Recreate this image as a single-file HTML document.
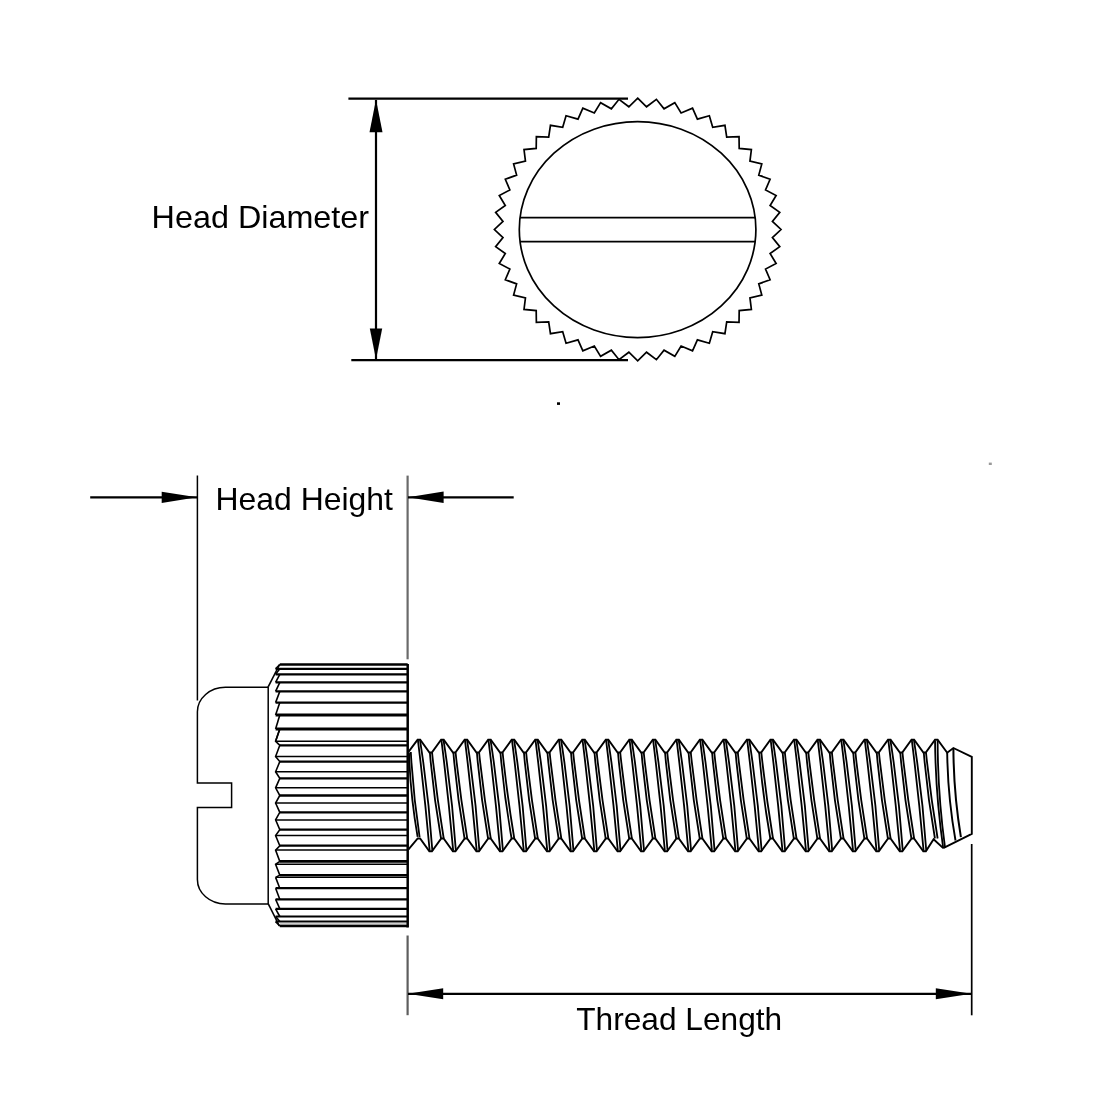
<!DOCTYPE html>
<html><head><meta charset="utf-8"><style>
html,body{margin:0;padding:0;background:#fff;width:1100px;height:1100px;overflow:hidden}
svg{display:block;will-change:transform}
</style></head><body>
<svg width="1100" height="1100" viewBox="0 0 1100 1100">
<rect width="1100" height="1100" fill="#fff"/>
<line x1="348.4" y1="98.6" x2="628" y2="98.6" stroke="#000" stroke-width="2.2"/>
<line x1="351.3" y1="360.2" x2="628" y2="360.2" stroke="#000" stroke-width="2.2"/>
<line x1="376" y1="100" x2="376" y2="359" stroke="#000" stroke-width="2.2"/>
<path d="M376 99.5 L369.5 132.2 L382.5 132.2 Z" fill="#000"/>
<path d="M376 359.5 L369.8 328.5 L382.2 328.5 Z" fill="#000"/>
<path d="M637.7 98.2 L646.53 106.76 L656.4 99.32 L664.04 108.86 L674.79 102.67 L681.09 113.03 L692.54 108.19 L697.41 119.18 L709.35 115.79 L712.7 127.23 L724.94 125.33 L726.71 137.02 L739.03 136.66 L739.2 148.4 L751.39 149.57 L749.95 161.16 L761.8 163.85 L758.78 175.1 L770.09 179.25 L765.54 189.96 L776.12 195.52 L770.11 205.5 L779.77 212.36 L772.41 221.46 L781 229.5 L772.41 237.54 L779.77 246.64 L770.11 253.5 L776.12 263.48 L765.54 269.04 L770.09 279.75 L758.78 283.9 L761.8 295.15 L749.95 297.84 L751.39 309.43 L739.2 310.6 L739.03 322.34 L726.71 321.98 L724.94 333.67 L712.7 331.77 L709.35 343.21 L697.41 339.82 L692.54 350.81 L681.09 345.97 L674.79 356.33 L664.04 350.14 L656.4 359.68 L646.53 352.24 L637.7 360.8 L628.87 352.24 L619 359.68 L611.36 350.14 L600.61 356.33 L594.31 345.97 L582.86 350.81 L577.99 339.82 L566.05 343.21 L562.7 331.77 L550.46 333.67 L548.69 321.98 L536.37 322.34 L536.2 310.6 L524.01 309.43 L525.45 297.84 L513.6 295.15 L516.62 283.9 L505.31 279.75 L509.86 269.04 L499.28 263.48 L505.29 253.5 L495.63 246.64 L502.99 237.54 L494.4 229.5 L502.99 221.46 L495.63 212.36 L505.29 205.5 L499.28 195.52 L509.86 189.96 L505.31 179.25 L516.62 175.1 L513.6 163.85 L525.45 161.16 L524.01 149.57 L536.2 148.4 L536.37 136.66 L548.69 137.02 L550.46 125.33 L562.7 127.23 L566.05 115.79 L577.99 119.18 L582.86 108.19 L594.31 113.03 L600.61 102.67 L611.36 108.86 L619 99.32 L628.87 106.76 Z" fill="none" stroke="#000" stroke-width="1.7" stroke-linejoin="miter"/>
<ellipse cx="637.6" cy="229.6" rx="118.3" ry="108" fill="none" stroke="#000" stroke-width="1.7"/>
<line x1="520.03" y1="217.6" x2="755.17" y2="217.6" stroke="#000" stroke-width="1.7"/>
<line x1="520.03" y1="241.6" x2="755.17" y2="241.6" stroke="#000" stroke-width="1.7"/>
<line x1="197.4" y1="475.5" x2="197.4" y2="700.5" stroke="#000" stroke-width="1.5"/>
<line x1="407.6" y1="475.6" x2="407.6" y2="659.3" stroke="#6a6a6a" stroke-width="2.2"/>
<line x1="90.2" y1="497.3" x2="197" y2="497.3" stroke="#000" stroke-width="2.2"/>
<path d="M197 497.3 L161.7 491.7 L161.7 502.9 Z" fill="#000"/>
<line x1="408" y1="497.3" x2="513.7" y2="497.3" stroke="#000" stroke-width="2.2"/>
<path d="M408 497.3 L443.6 491.6 L443.6 503 Z" fill="#000"/>
<path d="M268 687.3 L225.4 687.3 A28.0 24.5 0 0 0 197.4 711.8 L197.4 783 L231.6 783 L231.6 807.5 L197.4 807.5 L197.4 879.4 A28.0 24.5 0 0 0 225.4 903.9 L268 903.9" fill="none" stroke="#000" stroke-width="1.5"/>
<line x1="268.2" y1="686.2" x2="268.2" y2="904" stroke="#000" stroke-width="1.5"/>
<line x1="268.3" y1="686.6" x2="279.6" y2="664.5" stroke="#000" stroke-width="1.6"/>
<line x1="268.3" y1="903.8" x2="279.4" y2="926" stroke="#000" stroke-width="1.6"/>
<line x1="280" y1="924" x2="407" y2="924" stroke="#999" stroke-width="1.0"/>
<line x1="279.8" y1="664.5" x2="407.7" y2="664.5" stroke="#000" stroke-width="2.6"/>
<line x1="275.6" y1="668.8" x2="407.7" y2="668.8" stroke="#000" stroke-width="2.2"/>
<line x1="275.6" y1="674.3" x2="407.7" y2="674.3" stroke="#000" stroke-width="2.2"/>
<line x1="275.6" y1="682.3" x2="407.7" y2="682.3" stroke="#000" stroke-width="2.2"/>
<line x1="275.6" y1="691.4" x2="407.7" y2="691.4" stroke="#000" stroke-width="2.2"/>
<line x1="275.6" y1="702.6" x2="407.7" y2="702.6" stroke="#000" stroke-width="2.4"/>
<line x1="275.6" y1="715" x2="407.7" y2="715" stroke="#000" stroke-width="2.8"/>
<line x1="275.6" y1="729" x2="407.7" y2="729" stroke="#000" stroke-width="2.8"/>
<line x1="275.6" y1="741.3" x2="407.7" y2="741.3" stroke="#000" stroke-width="1.5"/>
<line x1="279.8" y1="745.3" x2="407.7" y2="745.3" stroke="#000" stroke-width="2.3"/>
<line x1="275.6" y1="756.5" x2="407.7" y2="756.5" stroke="#000" stroke-width="1.5"/>
<line x1="279.8" y1="761.6" x2="407.7" y2="761.6" stroke="#000" stroke-width="2.3"/>
<line x1="275.6" y1="771.8" x2="407.7" y2="771.8" stroke="#000" stroke-width="1.5"/>
<line x1="279.8" y1="778.4" x2="407.7" y2="778.4" stroke="#000" stroke-width="2.3"/>
<line x1="275.6" y1="787.8" x2="407.7" y2="787.8" stroke="#000" stroke-width="1.5"/>
<line x1="279.8" y1="795.5" x2="407.7" y2="795.5" stroke="#000" stroke-width="2.4"/>
<line x1="275.6" y1="803.1" x2="407.7" y2="803.1" stroke="#000" stroke-width="1.5"/>
<line x1="279.8" y1="812.3" x2="407.7" y2="812.3" stroke="#000" stroke-width="2.3"/>
<line x1="275.6" y1="819.9" x2="407.7" y2="819.9" stroke="#000" stroke-width="1.5"/>
<line x1="279.8" y1="829.7" x2="407.7" y2="829.7" stroke="#000" stroke-width="2.3"/>
<line x1="275.6" y1="835.5" x2="407.7" y2="835.5" stroke="#000" stroke-width="1.5"/>
<line x1="279.8" y1="845.7" x2="407.7" y2="845.7" stroke="#000" stroke-width="2.3"/>
<line x1="275.6" y1="850.1" x2="407.7" y2="850.1" stroke="#000" stroke-width="1.5"/>
<line x1="279.8" y1="861.4" x2="407.7" y2="861.4" stroke="#000" stroke-width="2.8"/>
<line x1="275.6" y1="864.3" x2="407.7" y2="864.3" stroke="#000" stroke-width="1.4"/>
<line x1="279.8" y1="875.2" x2="407.7" y2="875.2" stroke="#000" stroke-width="2.4"/>
<line x1="275.6" y1="877.4" x2="407.7" y2="877.4" stroke="#000" stroke-width="1.4"/>
<line x1="275.6" y1="888.2" x2="407.7" y2="888.2" stroke="#000" stroke-width="2.2"/>
<line x1="275.6" y1="899.3" x2="407.7" y2="899.3" stroke="#000" stroke-width="2.2"/>
<line x1="275.6" y1="908.9" x2="407.7" y2="908.9" stroke="#000" stroke-width="2.2"/>
<line x1="275.6" y1="916.5" x2="407.7" y2="916.5" stroke="#000" stroke-width="2.2"/>
<line x1="275.6" y1="921.6" x2="407.7" y2="921.6" stroke="#000" stroke-width="2.0"/>
<line x1="279.8" y1="926" x2="407.7" y2="926" stroke="#000" stroke-width="2.6"/>
<line x1="275.6" y1="668.8" x2="279.8" y2="664.5" stroke="#000" stroke-width="1.6"/>
<line x1="275.6" y1="674.3" x2="279.8" y2="668.8" stroke="#000" stroke-width="1.6"/>
<line x1="275.6" y1="682.3" x2="279.8" y2="674.3" stroke="#000" stroke-width="1.6"/>
<line x1="275.6" y1="691.4" x2="279.8" y2="682.3" stroke="#000" stroke-width="1.6"/>
<line x1="275.6" y1="702.6" x2="279.8" y2="691.4" stroke="#000" stroke-width="1.6"/>
<line x1="275.6" y1="715" x2="279.8" y2="702.6" stroke="#000" stroke-width="1.6"/>
<line x1="275.6" y1="729" x2="279.8" y2="715" stroke="#000" stroke-width="1.6"/>
<line x1="275.6" y1="741.3" x2="279.8" y2="729" stroke="#000" stroke-width="1.6"/>
<path d="M279.8 729 L275.6 741.3 L279.8 745.3 L275.6 756.5 L279.8 761.6 L275.6 771.8 L279.8 778.4 L275.6 787.8 L279.8 795.5 L275.6 803.1 L279.8 812.3 L275.6 819.9 L279.8 829.7 L275.6 835.5 L279.8 845.7 L275.6 850.1 L279.8 861.4 L275.6 864.3 L279.8 875.2 L275.6 877.4" fill="none" stroke="#000" stroke-width="1.6" stroke-linejoin="miter"/>
<line x1="275.6" y1="877.4" x2="279.8" y2="888.2" stroke="#000" stroke-width="1.6"/>
<line x1="275.6" y1="888.2" x2="279.8" y2="899.3" stroke="#000" stroke-width="1.6"/>
<line x1="275.6" y1="899.3" x2="279.8" y2="908.9" stroke="#000" stroke-width="1.6"/>
<line x1="275.6" y1="908.9" x2="279.8" y2="916.5" stroke="#000" stroke-width="1.6"/>
<line x1="275.6" y1="916.5" x2="279.8" y2="921.6" stroke="#000" stroke-width="1.6"/>
<line x1="275.6" y1="921.6" x2="279.8" y2="926" stroke="#000" stroke-width="1.6"/>
<line x1="407.7" y1="664" x2="407.7" y2="927.5" stroke="#000" stroke-width="2.5"/>
<line x1="407.6" y1="935.5" x2="407.6" y2="1015.2" stroke="#5e5e5e" stroke-width="2.2"/>
<path d="M408.5 751.9 L417.6 739.7 L420.2 739.7 L429.46 752.5 L431.86 752.5 L441.12 739.7 L443.72 739.7 L452.98 752.5 L455.38 752.5 L464.64 739.7 L467.24 739.7 L476.5 752.5 L478.9 752.5 L488.16 739.7 L490.76 739.7 L500.02 752.5 L502.42 752.5 L511.68 739.7 L514.28 739.7 L523.54 752.5 L525.94 752.5 L535.2 739.7 L537.8 739.7 L547.06 752.5 L549.46 752.5 L558.72 739.7 L561.32 739.7 L570.58 752.5 L572.98 752.5 L582.24 739.7 L584.84 739.7 L594.1 752.5 L596.5 752.5 L605.76 739.7 L608.36 739.7 L617.62 752.5 L620.02 752.5 L629.28 739.7 L631.88 739.7 L641.14 752.5 L643.54 752.5 L652.8 739.7 L655.4 739.7 L664.66 752.5 L667.06 752.5 L676.32 739.7 L678.92 739.7 L688.18 752.5 L690.58 752.5 L699.84 739.7 L702.44 739.7 L711.7 752.5 L714.1 752.5 L723.36 739.7 L725.96 739.7 L735.22 752.5 L737.62 752.5 L746.88 739.7 L749.48 739.7 L758.74 752.5 L761.14 752.5 L770.4 739.7 L773 739.7 L782.26 752.5 L784.66 752.5 L793.92 739.7 L796.52 739.7 L805.78 752.5 L808.18 752.5 L817.44 739.7 L820.04 739.7 L829.3 752.5 L831.7 752.5 L840.96 739.7 L843.56 739.7 L852.82 752.5 L855.22 752.5 L864.48 739.7 L867.08 739.7 L876.34 752.5 L878.74 752.5 L888 739.7 L890.6 739.7 L899.86 752.5 L902.26 752.5 L911.52 739.7 L914.12 739.7 L923.38 752.5 L925.78 752.5 L935.04 739.7 L937.64 739.7 L947.2 752.7 L953.4 748 L971.8 756.8 L971.8 833.8 L943.2 848.1" fill="none" stroke="#000" stroke-width="1.9" stroke-linejoin="miter"/>
<path d="M408.5 849.4 L417.7 838.5 L420.1 838.5 L429.36 851.2 L431.96 851.2 L441.22 838.5 L443.62 838.5 L452.88 851.2 L455.48 851.2 L464.74 838.5 L467.14 838.5 L476.4 851.2 L479 851.2 L488.26 838.5 L490.66 838.5 L499.92 851.2 L502.52 851.2 L511.78 838.5 L514.18 838.5 L523.44 851.2 L526.04 851.2 L535.3 838.5 L537.7 838.5 L546.96 851.2 L549.56 851.2 L558.82 838.5 L561.22 838.5 L570.48 851.2 L573.08 851.2 L582.34 838.5 L584.74 838.5 L594 851.2 L596.6 851.2 L605.86 838.5 L608.26 838.5 L617.52 851.2 L620.12 851.2 L629.38 838.5 L631.78 838.5 L641.04 851.2 L643.64 851.2 L652.9 838.5 L655.3 838.5 L664.56 851.2 L667.16 851.2 L676.42 838.5 L678.82 838.5 L688.08 851.2 L690.68 851.2 L699.94 838.5 L702.34 838.5 L711.6 851.2 L714.2 851.2 L723.46 838.5 L725.86 838.5 L735.12 851.2 L737.72 851.2 L746.98 838.5 L749.38 838.5 L758.64 851.2 L761.24 851.2 L770.5 838.5 L772.9 838.5 L782.16 851.2 L784.76 851.2 L794.02 838.5 L796.42 838.5 L805.68 851.2 L808.28 851.2 L817.54 838.5 L819.94 838.5 L829.2 851.2 L831.8 851.2 L841.06 838.5 L843.46 838.5 L852.72 851.2 L855.32 851.2 L864.58 838.5 L866.98 838.5 L876.24 851.2 L878.84 851.2 L888.1 838.5 L890.5 838.5 L899.76 851.2 L902.36 851.2 L911.62 838.5 L914.02 838.5 L923.28 851.2 L925.88 851.2 L933.6 839.3 L943.2 848.1" fill="none" stroke="#000" stroke-width="1.9" stroke-linejoin="miter"/>
<path d="M417.9 740.2 Q424.78 795.45 429.66 850.7" fill="none" stroke="#000" stroke-width="1.8"/>
<path d="M420 740.2 Q428.68 795.45 432.36 850.7" fill="none" stroke="#000" stroke-width="1.8"/>
<path d="M429.86 752.5 Q433.44 795.5 441.02 838.5" fill="none" stroke="#000" stroke-width="1.8"/>
<path d="M432.06 752.5 Q436.59 795.5 443.72 838.5" fill="none" stroke="#000" stroke-width="1.8"/>
<path d="M441.42 740.2 Q448.3 795.45 453.18 850.7" fill="none" stroke="#000" stroke-width="1.8"/>
<path d="M443.52 740.2 Q452.2 795.45 455.88 850.7" fill="none" stroke="#000" stroke-width="1.8"/>
<path d="M453.38 752.5 Q456.96 795.5 464.54 838.5" fill="none" stroke="#000" stroke-width="1.8"/>
<path d="M455.58 752.5 Q460.11 795.5 467.24 838.5" fill="none" stroke="#000" stroke-width="1.8"/>
<path d="M464.94 740.2 Q471.82 795.45 476.7 850.7" fill="none" stroke="#000" stroke-width="1.8"/>
<path d="M467.04 740.2 Q475.72 795.45 479.4 850.7" fill="none" stroke="#000" stroke-width="1.8"/>
<path d="M476.9 752.5 Q480.48 795.5 488.06 838.5" fill="none" stroke="#000" stroke-width="1.8"/>
<path d="M479.1 752.5 Q483.63 795.5 490.76 838.5" fill="none" stroke="#000" stroke-width="1.8"/>
<path d="M488.46 740.2 Q495.34 795.45 500.22 850.7" fill="none" stroke="#000" stroke-width="1.8"/>
<path d="M490.56 740.2 Q499.24 795.45 502.92 850.7" fill="none" stroke="#000" stroke-width="1.8"/>
<path d="M500.42 752.5 Q504 795.5 511.58 838.5" fill="none" stroke="#000" stroke-width="1.8"/>
<path d="M502.62 752.5 Q507.15 795.5 514.28 838.5" fill="none" stroke="#000" stroke-width="1.8"/>
<path d="M511.98 740.2 Q518.86 795.45 523.74 850.7" fill="none" stroke="#000" stroke-width="1.8"/>
<path d="M514.08 740.2 Q522.76 795.45 526.44 850.7" fill="none" stroke="#000" stroke-width="1.8"/>
<path d="M523.94 752.5 Q527.52 795.5 535.1 838.5" fill="none" stroke="#000" stroke-width="1.8"/>
<path d="M526.14 752.5 Q530.67 795.5 537.8 838.5" fill="none" stroke="#000" stroke-width="1.8"/>
<path d="M535.5 740.2 Q542.38 795.45 547.26 850.7" fill="none" stroke="#000" stroke-width="1.8"/>
<path d="M537.6 740.2 Q546.28 795.45 549.96 850.7" fill="none" stroke="#000" stroke-width="1.8"/>
<path d="M547.46 752.5 Q551.04 795.5 558.62 838.5" fill="none" stroke="#000" stroke-width="1.8"/>
<path d="M549.66 752.5 Q554.19 795.5 561.32 838.5" fill="none" stroke="#000" stroke-width="1.8"/>
<path d="M559.02 740.2 Q565.9 795.45 570.78 850.7" fill="none" stroke="#000" stroke-width="1.8"/>
<path d="M561.12 740.2 Q569.8 795.45 573.48 850.7" fill="none" stroke="#000" stroke-width="1.8"/>
<path d="M570.98 752.5 Q574.56 795.5 582.14 838.5" fill="none" stroke="#000" stroke-width="1.8"/>
<path d="M573.18 752.5 Q577.71 795.5 584.84 838.5" fill="none" stroke="#000" stroke-width="1.8"/>
<path d="M582.54 740.2 Q589.42 795.45 594.3 850.7" fill="none" stroke="#000" stroke-width="1.8"/>
<path d="M584.64 740.2 Q593.32 795.45 597 850.7" fill="none" stroke="#000" stroke-width="1.8"/>
<path d="M594.5 752.5 Q598.08 795.5 605.66 838.5" fill="none" stroke="#000" stroke-width="1.8"/>
<path d="M596.7 752.5 Q601.23 795.5 608.36 838.5" fill="none" stroke="#000" stroke-width="1.8"/>
<path d="M606.06 740.2 Q612.94 795.45 617.82 850.7" fill="none" stroke="#000" stroke-width="1.8"/>
<path d="M608.16 740.2 Q616.84 795.45 620.52 850.7" fill="none" stroke="#000" stroke-width="1.8"/>
<path d="M618.02 752.5 Q621.6 795.5 629.18 838.5" fill="none" stroke="#000" stroke-width="1.8"/>
<path d="M620.22 752.5 Q624.75 795.5 631.88 838.5" fill="none" stroke="#000" stroke-width="1.8"/>
<path d="M629.58 740.2 Q636.46 795.45 641.34 850.7" fill="none" stroke="#000" stroke-width="1.8"/>
<path d="M631.68 740.2 Q640.36 795.45 644.04 850.7" fill="none" stroke="#000" stroke-width="1.8"/>
<path d="M641.54 752.5 Q645.12 795.5 652.7 838.5" fill="none" stroke="#000" stroke-width="1.8"/>
<path d="M643.74 752.5 Q648.27 795.5 655.4 838.5" fill="none" stroke="#000" stroke-width="1.8"/>
<path d="M653.1 740.2 Q659.98 795.45 664.86 850.7" fill="none" stroke="#000" stroke-width="1.8"/>
<path d="M655.2 740.2 Q663.88 795.45 667.56 850.7" fill="none" stroke="#000" stroke-width="1.8"/>
<path d="M665.06 752.5 Q668.64 795.5 676.22 838.5" fill="none" stroke="#000" stroke-width="1.8"/>
<path d="M667.26 752.5 Q671.79 795.5 678.92 838.5" fill="none" stroke="#000" stroke-width="1.8"/>
<path d="M676.62 740.2 Q683.5 795.45 688.38 850.7" fill="none" stroke="#000" stroke-width="1.8"/>
<path d="M678.72 740.2 Q687.4 795.45 691.08 850.7" fill="none" stroke="#000" stroke-width="1.8"/>
<path d="M688.58 752.5 Q692.16 795.5 699.74 838.5" fill="none" stroke="#000" stroke-width="1.8"/>
<path d="M690.78 752.5 Q695.31 795.5 702.44 838.5" fill="none" stroke="#000" stroke-width="1.8"/>
<path d="M700.14 740.2 Q707.02 795.45 711.9 850.7" fill="none" stroke="#000" stroke-width="1.8"/>
<path d="M702.24 740.2 Q710.92 795.45 714.6 850.7" fill="none" stroke="#000" stroke-width="1.8"/>
<path d="M712.1 752.5 Q715.68 795.5 723.26 838.5" fill="none" stroke="#000" stroke-width="1.8"/>
<path d="M714.3 752.5 Q718.83 795.5 725.96 838.5" fill="none" stroke="#000" stroke-width="1.8"/>
<path d="M723.66 740.2 Q730.54 795.45 735.42 850.7" fill="none" stroke="#000" stroke-width="1.8"/>
<path d="M725.76 740.2 Q734.44 795.45 738.12 850.7" fill="none" stroke="#000" stroke-width="1.8"/>
<path d="M735.62 752.5 Q739.2 795.5 746.78 838.5" fill="none" stroke="#000" stroke-width="1.8"/>
<path d="M737.82 752.5 Q742.35 795.5 749.48 838.5" fill="none" stroke="#000" stroke-width="1.8"/>
<path d="M747.18 740.2 Q754.06 795.45 758.94 850.7" fill="none" stroke="#000" stroke-width="1.8"/>
<path d="M749.28 740.2 Q757.96 795.45 761.64 850.7" fill="none" stroke="#000" stroke-width="1.8"/>
<path d="M759.14 752.5 Q762.72 795.5 770.3 838.5" fill="none" stroke="#000" stroke-width="1.8"/>
<path d="M761.34 752.5 Q765.87 795.5 773 838.5" fill="none" stroke="#000" stroke-width="1.8"/>
<path d="M770.7 740.2 Q777.58 795.45 782.46 850.7" fill="none" stroke="#000" stroke-width="1.8"/>
<path d="M772.8 740.2 Q781.48 795.45 785.16 850.7" fill="none" stroke="#000" stroke-width="1.8"/>
<path d="M782.66 752.5 Q786.24 795.5 793.82 838.5" fill="none" stroke="#000" stroke-width="1.8"/>
<path d="M784.86 752.5 Q789.39 795.5 796.52 838.5" fill="none" stroke="#000" stroke-width="1.8"/>
<path d="M794.22 740.2 Q801.1 795.45 805.98 850.7" fill="none" stroke="#000" stroke-width="1.8"/>
<path d="M796.32 740.2 Q805 795.45 808.68 850.7" fill="none" stroke="#000" stroke-width="1.8"/>
<path d="M806.18 752.5 Q809.76 795.5 817.34 838.5" fill="none" stroke="#000" stroke-width="1.8"/>
<path d="M808.38 752.5 Q812.91 795.5 820.04 838.5" fill="none" stroke="#000" stroke-width="1.8"/>
<path d="M817.74 740.2 Q824.62 795.45 829.5 850.7" fill="none" stroke="#000" stroke-width="1.8"/>
<path d="M819.84 740.2 Q828.52 795.45 832.2 850.7" fill="none" stroke="#000" stroke-width="1.8"/>
<path d="M829.7 752.5 Q833.28 795.5 840.86 838.5" fill="none" stroke="#000" stroke-width="1.8"/>
<path d="M831.9 752.5 Q836.43 795.5 843.56 838.5" fill="none" stroke="#000" stroke-width="1.8"/>
<path d="M841.26 740.2 Q848.14 795.45 853.02 850.7" fill="none" stroke="#000" stroke-width="1.8"/>
<path d="M843.36 740.2 Q852.04 795.45 855.72 850.7" fill="none" stroke="#000" stroke-width="1.8"/>
<path d="M853.22 752.5 Q856.8 795.5 864.38 838.5" fill="none" stroke="#000" stroke-width="1.8"/>
<path d="M855.42 752.5 Q859.95 795.5 867.08 838.5" fill="none" stroke="#000" stroke-width="1.8"/>
<path d="M864.78 740.2 Q871.66 795.45 876.54 850.7" fill="none" stroke="#000" stroke-width="1.8"/>
<path d="M866.88 740.2 Q875.56 795.45 879.24 850.7" fill="none" stroke="#000" stroke-width="1.8"/>
<path d="M876.74 752.5 Q880.32 795.5 887.9 838.5" fill="none" stroke="#000" stroke-width="1.8"/>
<path d="M878.94 752.5 Q883.47 795.5 890.6 838.5" fill="none" stroke="#000" stroke-width="1.8"/>
<path d="M888.3 740.2 Q895.18 795.45 900.06 850.7" fill="none" stroke="#000" stroke-width="1.8"/>
<path d="M890.4 740.2 Q899.08 795.45 902.76 850.7" fill="none" stroke="#000" stroke-width="1.8"/>
<path d="M900.26 752.5 Q903.84 795.5 911.42 838.5" fill="none" stroke="#000" stroke-width="1.8"/>
<path d="M902.46 752.5 Q906.99 795.5 914.12 838.5" fill="none" stroke="#000" stroke-width="1.8"/>
<path d="M911.82 740.2 Q918.7 795.45 923.58 850.7" fill="none" stroke="#000" stroke-width="1.8"/>
<path d="M913.92 740.2 Q922.6 795.45 926.28 850.7" fill="none" stroke="#000" stroke-width="1.8"/>
<path d="M923.78 752.5 Q927.36 795.5 934.94 838.5" fill="none" stroke="#000" stroke-width="1.8"/>
<path d="M925.98 752.5 Q930.51 795.5 937.64 838.5" fill="none" stroke="#000" stroke-width="1.8"/>
<path d="M409 752.5 Q410.3 794.7 417.6 836.9" fill="none" stroke="#000" stroke-width="1.8"/>
<path d="M410.8 752 Q413.2 794.6 419.6 837.2" fill="none" stroke="#000" stroke-width="1.8"/>
<path d="M935.04 740.7 Q935.52 794.4 943.2 848.1" fill="none" stroke="#000" stroke-width="1.8"/>
<path d="M937.64 740.7 Q937.72 794 945 847.3" fill="none" stroke="#000" stroke-width="1.8"/>
<path d="M947.2 752.7 Q947.75 796.6 955.5 840.5" fill="none" stroke="#000" stroke-width="1.9"/>
<path d="M953.4 748 Q953.55 792.6 960.9 837.2" fill="none" stroke="#000" stroke-width="2.0"/>
<line x1="971.7" y1="844" x2="971.7" y2="1015.3" stroke="#000" stroke-width="1.7"/>
<line x1="408" y1="993.8" x2="971" y2="993.8" stroke="#000" stroke-width="2.2"/>
<path d="M407.7 993.8 L443.2 988.3 L443.2 999.3 Z" fill="#000"/>
<path d="M971.5 993.8 L935.8 988.3 L935.8 999.3 Z" fill="#000"/>
<rect x="557" y="402.3" width="3" height="2.6" fill="#000"/>
<rect x="988.8" y="462.6" width="3" height="2.4" fill="#999"/>
<text x="151.6" y="227.9" font-family="Liberation Sans, sans-serif" font-size="31.5" textLength="217.5" lengthAdjust="spacingAndGlyphs" fill="#000">Head Diameter</text>
<text x="215.6" y="510.2" font-family="Liberation Sans, sans-serif" font-size="31.5" textLength="177.3" lengthAdjust="spacingAndGlyphs" fill="#000">Head Height</text>
<text x="576.2" y="1029.6" font-family="Liberation Sans, sans-serif" font-size="31.5" textLength="206" lengthAdjust="spacingAndGlyphs" fill="#000">Thread Length</text>
</svg>
</body></html>
